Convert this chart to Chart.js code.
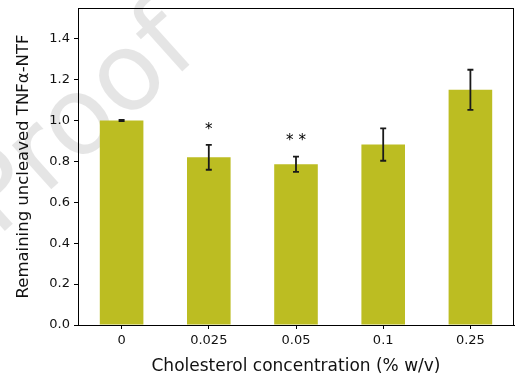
<!DOCTYPE html>
<html>
<head>
<meta charset="utf-8">
<script src="https://cdn.jsdelivr.net/npm/chart.js@4"></script>
<style>
  html, body { margin: 0; padding: 0; background: #fff; }
  #wrap { width: 515px; height: 381px; }
</style>
</head>
<body>
<div id="wrap"><canvas id="bars"></canvas></div>
<script>
const categories = ['0', '0.025', '0.05', '0.1', '0.25'];
const means = [1.0, 0.82, 0.786, 0.882, 1.15];
const errors = [0.003, 0.061, 0.037, 0.079, 0.098];
const stars = ['', '*', '* *', '', ''];
const starHeights = [null, 0.955, 0.9, null, null];

const font = 'DejaVu Sans';

// watermark behind everything
const watermark = {
  id: 'watermark',
  beforeDraw(chart) {
    const { ctx } = chart;
    ctx.save();
    ctx.translate(-3, 238);
    ctx.rotate(-42 * Math.PI / 180);
    ctx.fillStyle = 'rgba(0,0,0,0.1)';
    ctx.font = '108px ' + font;
    ctx.textBaseline = 'alphabetic';
    ctx.fillText('Proof', 0, 0);
    ctx.restore();
  }
};

// error bars with caps, drawn through the scales
const errorBars = {
  id: 'errorBars',
  afterDatasetsDraw(chart) {
    const { ctx, scales: { x, y } } = chart;
    ctx.save();
    ctx.strokeStyle = '#1a1a1a';
    ctx.lineWidth = 1.8;
    means.forEach((m, i) => {
      const cx = x.getPixelForValue(i);
      const top = y.getPixelForValue(m + errors[i]);
      const bot = y.getPixelForValue(m - errors[i]);
      ctx.beginPath();
      ctx.moveTo(cx, top); ctx.lineTo(cx, bot);
      ctx.moveTo(cx - 3, top); ctx.lineTo(cx + 3, top);
      ctx.moveTo(cx - 3, bot); ctx.lineTo(cx + 3, bot);
      ctx.stroke();
    });
    ctx.fillStyle = '#000';
    ctx.font = '15px ' + font;
    ctx.textAlign = 'center';
    ctx.textBaseline = 'middle';
    stars.forEach((s, i) => {
      if (!s) return;
      ctx.fillText(s, x.getPixelForValue(i), y.getPixelForValue(starHeights[i]));
    });
    ctx.restore();
  }
};

// box around the plot
const frame = {
  id: 'frame',
  afterDraw(chart) {
    const { ctx, chartArea: a } = chart;
    ctx.save();
    ctx.strokeStyle = '#000';
    ctx.lineWidth = 1;
    ctx.strokeRect(a.left + 0.5, a.top + 0.5, a.right - a.left - 1, a.bottom - a.top);
    ctx.restore();
  }
};

new Chart('bars', {
  type: 'bar',
  data: {
    labels: categories,
    datasets: [{
      data: means,
      backgroundColor: '#bcbd22',
      borderWidth: 0,
      barPercentage: 0.5,
      categoryPercentage: 1.0
    }]
  },
  options: {
    responsive: true,
    maintainAspectRatio: false,
    animation: false,
    layout: { padding: { top: 8, right: 1, left: 10, bottom: 0 } },
    plugins: { legend: { display: false }, tooltip: { enabled: false } },
    scales: {
      x: {
        offset: true,
        grid: { drawOnChartArea: false, tickLength: 4, color: '#000', offset: false },
        border: { color: '#000' },
        ticks: { color: '#111', font: { family: font, size: 13 }, padding: 4, maxRotation: 0 },
        title: { display: true, text: 'Cholesterol concentration (% w/v)', color: '#111',
                 font: { family: font, size: 17 }, padding: { top: 6 } },
        afterFit(s) { s.height = 56; s.paddingLeft = 0; s.paddingRight = 0; }
      },
      y: {
        min: 0,
        max: 1.55,
        grid: { drawOnChartArea: false, tickLength: 4, color: '#000' },
        border: { color: '#000' },
        ticks: { stepSize: 0.2, includeBounds: false, color: '#111',
                 font: { family: font, size: 13 }, padding: 4,
                 callback: v => v.toFixed(1) },
        title: { display: true, text: 'Remaining uncleaved TNFα-NTF', color: '#111',
                 font: { family: font, size: 16.5 }, padding: { bottom: 6 } },
        afterFit(s) { s.width = 68; s.paddingTop = 0; s.paddingBottom = 0; }
      }
    }
  },
  plugins: [watermark, errorBars, frame]
});
</script>
</body>
</html>
